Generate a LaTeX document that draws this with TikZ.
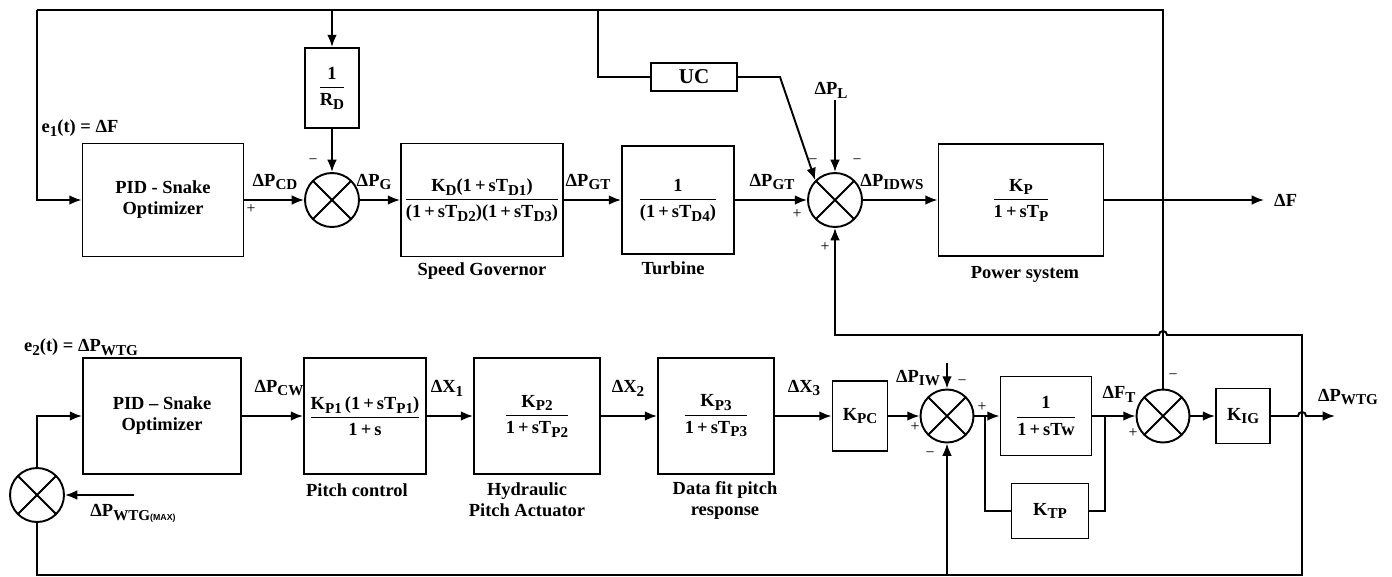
\documentclass[tikz,border=0pt]{standalone}
\usepackage{amsmath}
\usepackage{fontspec}
\setmainfont{Liberation Serif}
\setsansfont{Liberation Sans}
\usetikzlibrary{arrows.meta}
\newcommand{\ix}[1]{\raisebox{-0.45ex}{\fontsize{8.6}{9}\selectfont #1}}
\newcommand{\dP}[1]{ΔP\ix{#1}}
\newcommand{\blockfrac}[2]{$\displaystyle\frac{\text{#1}}{\text{#2}}$}
\begin{document}
\begin{tikzpicture}[x=0.02cm, y=-0.02cm, >={Latex[length=7pt,width=5.5pt]},
  every node/.style={font=\bfseries\fontsize{10.5}{12}\selectfont},
  blk/.style={draw, line width=1.1pt, inner sep=1pt, align=center},
  sig/.style={line width=1.1pt},
  sumj/.style={draw, circle, line width=1.1pt, inner sep=0pt, minimum size=1.08cm,
    path picture={\draw[line width=1.1pt] (path picture bounding box.north west) -- (path picture bounding box.south east)
      (path picture bounding box.north east) -- (path picture bounding box.south west);}},
  sgn/.style={font=\normalfont\small, inner sep=0pt},
  blklabel/.style={align=center}]
  \useasboundingbox (0,0) rectangle (1392,576);
  \node[blk, minimum width=3.22cm, minimum height=2.26cm] (pid1) at (163,200) {PID - Snake\\Optimizer};
  \node[blk, minimum width=1.08cm, minimum height=1.6cm] (rd) at (332,88) {\blockfrac{1}{R\ix{D}}};
  \node[sumj] (sum1) at (332,200) {};
  \node[blk, minimum width=3.24cm, minimum height=2.26cm] (gov) at (482,200) {\blockfrac{K\ix{D}(1\,+\,sT\ix{D1})}{(1\,+\,sT\ix{D2})(1\,+\,sT\ix{D3})}};
  \node[blk, minimum width=2.24cm, minimum height=2.16cm] (turb) at (678,200) {\blockfrac{1}{(1\,+\,sT\ix{D4})}};
  \node[sumj] (sum2) at (835,200) {};
  \node[blk, minimum width=3.3cm, minimum height=2.24cm] (pow) at (1021,200) {\blockfrac{K\ix{P}}{1\,+\,sT\ix{P}}};
  \node[blk, minimum width=1.72cm, minimum height=0.56cm, font=\bfseries\large] (uc) at (694,77) {UC};
  \node[blk, minimum width=3.16cm, minimum height=2.32cm] (pid2) at (162,416) {PID – Snake\\Optimizer};
  \node[blk, minimum width=2.44cm, minimum height=2.32cm] (pc) at (365,416) {\blockfrac{K\ix{P1}\,(1\,+\,sT\ix{P1})}{1\,+\,s}};
  \node[blk, minimum width=2.52cm, minimum height=2.32cm] (hyd) at (537,416) {\blockfrac{K\ix{P2}}{1\,+\,sT\ix{P2}}};
  \node[blk, minimum width=2.32cm, minimum height=2.32cm] (dfp) at (716,416) {\blockfrac{K\ix{P3}}{1\,+\,sT\ix{P3}}};
  \node[blk, minimum width=1.1cm, minimum height=1.4cm] (kpc) at (860,416) {K\ix{PC}};
  \node[sumj, minimum size=1.06cm] (sum4) at (947,416) {};
  \node[blk, minimum width=1.82cm, minimum height=1.58cm] (tw) at (1046,416) {\blockfrac{1}{1\,+\,sTw}};
  \node[blk, minimum width=1.54cm, minimum height=1.1cm] (ktp) at (1050,511) {K\ix{TP}};
  \node[sumj, minimum size=1.06cm] (sum5) at (1163,416) {};
  \node[blk, minimum width=1.08cm, minimum height=1.1cm] (kig) at (1243,416) {K\ix{IG}};
  \node[sumj] (sum3) at (37,495) {};
  \coordinate (tl) at (37,10);
  \coordinate (tr) at (1163,10);
  \coordinate (ucup) at (598,10);
  \coordinate (ucbend) at (780,77);
  \coordinate (pl) at (835,100);
  \coordinate (outF) at (1264,200);
  \coordinate (fbl) at (835,335);
  \coordinate (fbr) at (1302,335);
  \coordinate (hop1) at (1167,335);
  \coordinate (bl) at (37,575);
  \coordinate (br) at (1302,575);
  \coordinate (wmax) at (134,495);
  \coordinate (piw) at (947,363);
  \coordinate (j1) at (985,416);
  \coordinate (j2) at (1105,416);
  \coordinate (hop2) at (1298,416);
  \coordinate (outW) at (1335,416);
  \draw[sig,->] (tl) |- (pid1.west);
  \draw[sig] (tl) -- (tr) -- (sum5.north);
  \draw[sig,->] (rd.north |- tl) -- (rd.north);
  \draw[sig,->] (rd) -- (sum1);
  \draw[sig,->] (pid1) -- (sum1);
  \draw[sig,->] (sum1) -- (gov);
  \draw[sig,->] (gov) -- (turb);
  \draw[sig,->] (turb) -- (sum2);
  \draw[sig,->] (sum2) -- (pow);
  \draw[sig,->] (pow) -- (outF);
  \draw[sig] (ucup) |- (uc.west);
  \draw[sig,->] (uc.east) -- (ucbend) -- (sum2.north west);
  \draw[sig,->] (pl) -- (sum2.north);
  \draw[sig,->] (sum3.south) -- (bl) -- (br) -- (fbr) -- (hop1) arc[start angle=0, end angle=180, radius=2.3pt] -- (fbl) -- (sum2.south);
  \draw[sig,->] (sum4.south |- bl) -- (sum4.south);
  \draw[sig,->] (sum3.north) |- (pid2.west);
  \draw[sig,->] (wmax) -- (sum3.east);
  \draw[sig,->] (pid2) -- (pc);
  \draw[sig,->] (pc) -- (hyd);
  \draw[sig,->] (hyd) -- (dfp);
  \draw[sig,->] (dfp) -- (kpc);
  \draw[sig,->] (kpc) -- (sum4);
  \draw[sig,->] (piw) -- (sum4.north);
  \draw[sig,->] (sum4) -- (tw);
  \draw[sig] (j1) |- (ktp.west);
  \draw[sig] (ktp.east) -| (j2);
  \draw[sig,->] (tw) -- (sum5);
  \draw[sig,->] (sum5) -- (kig);
  \draw[sig,->] (kig.east) -- (hop2) arc[start angle=180, end angle=0, radius=2.3pt] -- (outW);
  \node (le1) at (80,128) {e\ix{1}(t) = ΔF};
  \node (lcd) at (275,182) {\dP{CD}};
  \node (lg) at (374,182) {\dP{G}};
  \node (lgt1) at (588,182) {\dP{GT}};
  \node (lgt2) at (772,182) {\dP{GT}};
  \node (lidws) at (892,182) {\dP{IDWS}};
  \node (lpl) at (831,90) {\dP{L}};
  \node[anchor=west] (lf) at (1268,200) {ΔF};
  \node (le2) at (81,347) {e\ix{2}(t) = \dP{WTG}};
  \node (lcw) at (279,388) {\dP{CW}};
  \node (lx1) at (447,388) {ΔX\ix{1}};
  \node (lx2) at (628,388) {ΔX\ix{2}};
  \node (lx3) at (804,388) {ΔX\ix{3}};
  \node (liw) at (918,378) {\dP{IW}};
  \node (lft) at (1119,394) {ΔF\ix{T}};
  \node (lwtg) at (1348,397) {\dP{WTG}};
  \node (lmax) at (133,513) {\dP{WTG{\sffamily\tiny(MAX)}}};
  \node[blklabel] (tgov) at (482,271) {Speed Governor};
  \node[blklabel] (tturb) at (673,268) {Turbine};
  \node[blklabel] (tpow) at (1025,274) {Power system};
  \node[blklabel] (tpc) at (357,490) {Pitch control};
  \node[blklabel] (thyd) at (527,500) {Hydraulic\\Pitch Actuator};
  \node[blklabel] (tdfp) at (725,500) {Data fit pitch\\response};
  \node[sgn] (s1) at (251,209) {+};
  \node[sgn] (s2) at (313,162) {−};
  \node[sgn] (s3) at (813,162) {−};
  \node[sgn] (s4) at (857,162) {−};
  \node[sgn] (s5) at (797,214) {+};
  \node[sgn] (s6) at (825,247) {+};
  \node[sgn] (s7) at (962,383) {−};
  \node[sgn] (s8) at (915,427) {+};
  \node[sgn] (s9) at (930,455) {−};
  \node[sgn] (s10) at (982,407) {+};
  \node[sgn] (s11) at (1173,377) {−};
  \node[sgn] (s12) at (1133,433) {+};
\end{tikzpicture}
\end{document}
